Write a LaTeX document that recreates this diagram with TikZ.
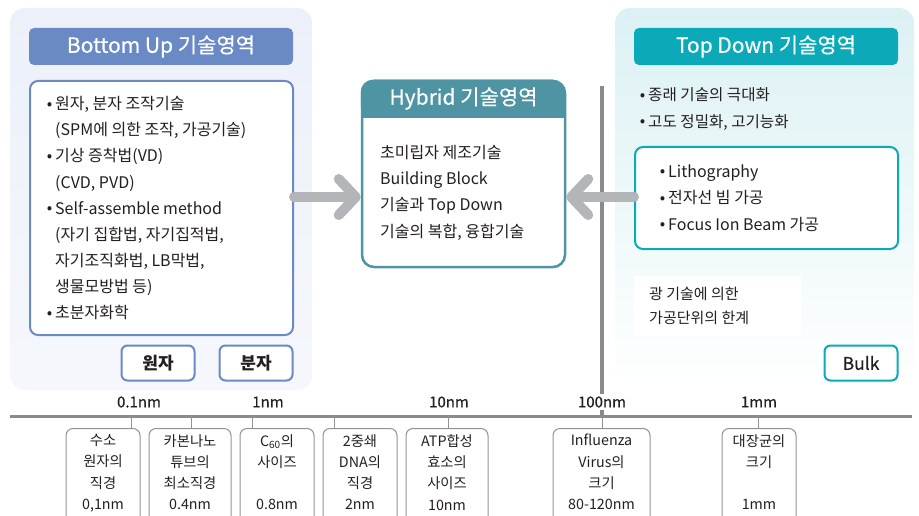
\documentclass[tikz,border=0pt]{standalone}
\usepackage{fontspec}
\setmainfont{Noto Sans CJK KR}
\newfontfamily\medfont[FakeBold=0.5]{Noto Sans CJK KR}
\usetikzlibrary{arrows.meta,calc}
\definecolor{bublue}{HTML}{6A8AC6}
\definecolor{tdteal}{HTML}{0CAAB8}
\definecolor{hyteal}{HTML}{4F94A2}
\definecolor{arrowgray}{HTML}{B4B5B8}
\definecolor{linegray}{HTML}{8A898E}
\definecolor{boxgray}{HTML}{929292}
\definecolor{txt}{HTML}{231F20}
\definecolor{bubg}{HTML}{ECF0F9}
\definecolor{tdbg}{HTML}{DCF1F4}
\newcommand\mybul{\makebox[0pt][r]{\raisebox{0.5pt}{\fontsize{16}{16}\selectfont•}\hspace{3pt}}}
\begin{document}
\begin{tikzpicture}[x=1pt,y=-1pt,
  every node/.style={text=txt, inner sep=0pt},
  body/.style={font=\fontsize{16}{18}\selectfont, text height=13pt, text depth=2.5pt, anchor=west},
  tdbody/.style={font=\fontsize{15.6}{18}\selectfont, text height=13pt, text depth=2.5pt, anchor=west},
  smallbody/.style={font=\fontsize{15}{18}\selectfont, text height=13pt, text depth=2.5pt, anchor=west},
  titlebar/.style={rounded corners=5pt, minimum height=37pt, minimum width=264pt, text=white, font=\medfont\fontsize{21}{24}\selectfont},
  listbox/.style={draw, line width=2pt, rounded corners=8pt, fill=white},
  tagbox/.style={draw, line width=2pt, rounded corners=6pt, fill=white, minimum width=73pt, minimum height=35pt, font=\bfseries\fontsize{17}{20}\selectfont},
  scalebox/.style={draw=boxgray, line width=1pt, rounded corners=7pt, minimum height=102pt, anchor=north},
  scaletext/.style={font=\fontsize{14.3}{21.3}\selectfont, align=center, anchor=north},
  scalelabel/.style={font=\medfont\fontsize{15}{18}\selectfont},
  bigarrow/.style={draw=arrowgray, line width=10pt, line cap=round, -{Straight Barb[round,length=17pt,width=36pt]}},
  tick/.style={draw=boxgray, line width=1pt},
]
\useasboundingbox (0,0) rectangle (919,516);

% panels
\shade[rounded corners=15pt, top color=bubg, bottom color=white!50!bubg] (10,8) rectangle (312,390);
\shade[rounded corners=15pt, top color=tdbg, bottom color=white] (615,8) rectangle (914,390);

% vertical divider and axis
\coordinate (vtop) at (602,86);
\coordinate (axL) at (10,416);
\coordinate (axR) at (912,416);
\draw[linegray, line width=3.5pt] (vtop) -- (vtop |- axL);
\draw[linegray, line width=3pt] (axL) -- (axR);

% ---------- Bottom Up ----------
\node[titlebar, fill=bublue] (butitle) at (161,46.5) {Bottom Up 기술영역};
\node[listbox, draw=bublue, minimum width=263pt, minimum height=254pt] (bulist) at (161.5,208) {};
\foreach \t [count=\i] in {{\mybul 원자, 분자 조작기술},{(SPM에 의한 조작, 가공기술)},{\mybul 기상 증착법(VD)},{(CVD, PVD)},{\mybul Self-assemble method},{(자기 집합법, 자기집적법,},{자기조직화법, LB막법,},{생물모방법 등)},{\mybul 초분자화학}}
  \node[body] (bu\i) at (55,{104.5+26.1*(\i-1)}) {\t};
\node[tagbox, draw=bublue] (atom) at (158,363) {원자};
\node[tagbox, draw=bublue] (molecule) at (256,363) {분자};

% ---------- Top Down ----------
\node[titlebar, fill=tdteal] (tdtitle) at (766,46.5) {Top Down 기술영역};
\node[tdbody] (td1) at (648,95.5) {\mybul 종래 기술의 극대화};
\node[tdbody] (td2) at (648,122) {\mybul 고도 정밀화, 고기능화};
\node[listbox, draw=tdteal, minimum width=263pt, minimum height=102pt] (tdlist) at (766.5,198) {};
\node[body] (tdl1) at (668,172) {\mybul Lithography};
\node[body] (tdl2) at (668,198.5) {\mybul 전자선 빔 가공};
\node[body] (tdl3) at (668,225) {\mybul Focus Ion Beam 가공};
\node[fill=white, minimum width=167pt, minimum height=60pt] (limit) at (717.5,306) {};
\node[smallbody] (lim1) at (649,294) {광 기술에 의한};
\node[smallbody] (lim2) at (649,318) {가공단위의 한계};
\node[tagbox, draw=tdteal, font=\medfont\fontsize{17.5}{20}\selectfont] (bulk) at (861,363) {Bulk};

% ---------- Hybrid ----------
\node[draw=hyteal, line width=2.5pt, rounded corners=12pt, fill=white, minimum width=203pt, minimum height=186pt] (hybrid) at (463.5,174) {};
\fill[hyteal, rounded corners=12pt] (hybrid.north west) rectangle (565,118);
\fill[hyteal] (362,100) rectangle (565,118);
\node[text=white, font=\medfont\fontsize{21}{24}\selectfont] (hytitle) at (463.5,98.5) {Hybrid 기술영역};
\node[body] (hy1) at (380,153) {초미립자 제조기술};
\node[body] (hy2) at (380,179) {Building Block};
\node[body] (hy3) at (380,205.5) {기술과 Top Down};
\node[body] (hy4) at (380,232) {기술의 복합, 융합기술};

% arrows
\coordinate (ay) at (0,197);
\draw[bigarrow] (bulist.east |- ay) -- (hybrid.west |- ay);
\draw[bigarrow] (tdlist.west |- ay) -- (hybrid.east |- ay);

% axis labels
\node[scalelabel] (l01) at (139,402) {0.1nm};
\node[scalelabel] (l1) at (268,402) {1nm};
\node[scalelabel] (l10) at (449,402) {10nm};
\node[scalelabel, fill=white, inner sep=2pt] (l100) at (602,402) {100nm};
\node[scalelabel] (l1mm) at (759,402) {1mm};

% scale boxes
\node[scalebox, minimum width=74pt] (b1) at (103,428) {};
\node[scalebox, minimum width=82pt] (b2) at (190,428) {};
\node[scalebox, minimum width=74pt] (b3) at (277,428) {};
\node[scalebox, minimum width=74pt] (b4) at (360,428) {};
\node[scalebox, minimum width=82pt] (b5) at (447,428) {};
\node[scalebox, minimum width=97pt] (b6) at (601.5,428) {};
\node[scalebox, minimum width=74pt] (b7) at (759,428) {};

\node[scaletext] (b1t) at (103,434) {수소\\원자의\\직경\\0,1nm};
\node[scaletext] (b2t) at (190,434) {카본나노\\튜브의\\최소직경\\0.4nm};
\node[scaletext] (b3t) at (277,434) {C\textsubscript{60}의\\사이즈\\\mbox{}\\0.8nm};
\node[scaletext] (b4t) at (360,434) {2중쇄\\DNA의\\직경\\2nm};
\node[scaletext] (b5t) at (447,434) {ATP합성\\효소의\\사이즈\\10nm};
\node[scaletext] (b6t) at (601.5,434) {Influenza\\Virus의\\크기\\80-120nm};
\node[scaletext] (b7t) at (759,434) {대장균의\\크기\\\mbox{}\\1mm};

% ticks
\foreach \x/\b in {131/b1,191/b2,252/b3,334/b4,448/b5,602/b6,758/b7}
  \draw[tick] (\x,416) -- (\x,416 |- \b.north);
\end{tikzpicture}
\end{document}
